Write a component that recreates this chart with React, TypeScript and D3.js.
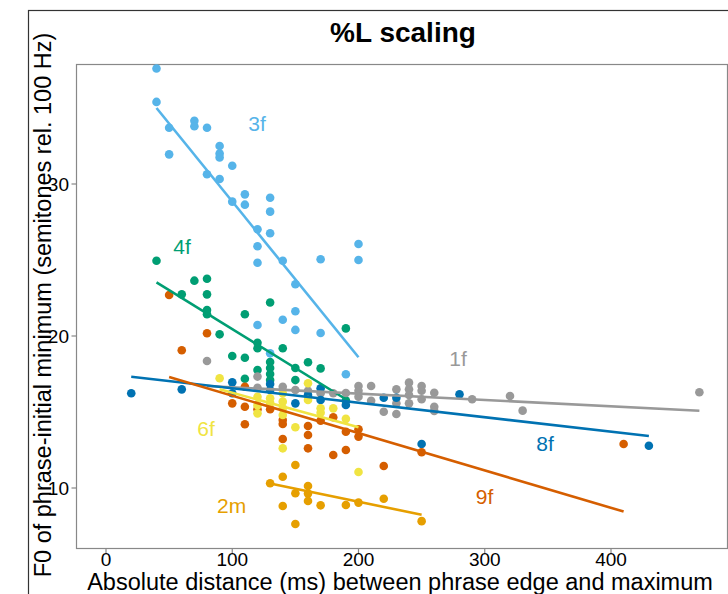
import React from "react";
import * as d3 from "d3";

// ---- data ----
const xTicks = [0, 100, 200, 300, 400];
const yTicks = [10, 20, 30];

const s1fX = [80, 120, 120, 140, 150, 160, 170, 180, 190, 200, 200, 200, 210, 210, 220, 230, 230, 230, 240, 240, 240, 240, 250, 250, 250, 260, 260, 260, 290, 320, 330, 470];
const s1fY = [18.36, 17.33, 16.6, 16.66, 16.45, 16.4, 16.23, 16.23, 16.25, 16.71, 16.4, 16.0, 16.71, 15.74, 15.02, 16.49, 15.57, 14.87, 16.93, 16.49, 16.12, 15.57, 16.71, 16.4, 15.84, 16.27, 15.35, 15.07, 15.84, 16.05, 15.09, 16.3];

const s3fX = [40, 40, 50, 50, 70, 70, 80, 90, 90, 90, 100, 80, 90, 110, 110, 100, 130, 130, 120, 130, 120, 120, 140, 170, 150, 150, 140, 150, 170, 120, 130, 190, 200, 200];
const s3fY = [37.6, 35.4, 33.7, 31.95, 34.16, 33.8, 33.7, 32.5, 32.0, 31.75, 31.2, 30.64, 30.33, 29.32, 28.64, 28.84, 29.1, 28.18, 27.02, 26.76, 25.9, 24.82, 24.95, 25.05, 23.4, 21.63, 21.07, 20.4, 20.2, 20.72, 18.86, 17.48, 26.05, 25.0];

const s4fX = [40, 60, 70, 80, 80, 80, 80, 90, 100, 110, 110, 110, 120, 120, 120, 130, 130, 130, 130, 130, 140, 150, 150, 160, 170, 190, 190];
const s4fY = [24.95, 22.74, 23.64, 23.77, 22.74, 21.71, 21.43, 20.11, 18.68, 21.43, 18.57, 17.19, 19.56, 19.19, 17.76, 22.2, 18.29, 17.89, 17.5, 17.1, 19.19, 17.89, 17.1, 18.27, 17.87, 20.5, 15.75];

const s8fX = [20, 60, 100, 100, 130, 130, 150, 160, 170, 170, 190, 220, 230, 250, 280, 430];
const s8fY = [16.23, 16.49, 16.95, 16.23, 16.84, 16.45, 15.57, 16.12, 16.56, 15.79, 15.46, 15.94, 15.94, 12.89, 16.16, 12.78];

const s9fX = [50, 60, 80, 100, 110, 110, 110, 120, 130, 140, 140, 140, 160, 160, 160, 170, 180, 180, 190, 190, 200, 200, 220, 250, 410];
const s9fY = [22.7, 19.06, 20.18, 15.57, 16.66, 15.35, 14.19, 15.18, 15.18, 14.47, 14.21, 13.22, 14.08, 13.49, 12.61, 14.43, 14.65, 12.17, 13.7, 12.5, 13.86, 13.38, 11.45, 12.35, 12.89];

const s6fX = [90, 120, 120, 120, 130, 130, 140, 140, 140, 140, 140, 150, 160, 160, 170, 170, 180, 190, 200];
const s6fY = [17.22, 16.0, 15.45, 14.91, 15.9, 15.6, 16.23, 15.68, 15.24, 14.8, 12.61, 14.0, 16.89, 15.79, 15.24, 14.95, 15.24, 14.55, 11.05];

const s2mX = [130, 140, 140, 150, 150, 150, 160, 160, 160, 170, 190, 200, 220, 250];
const s2mY = [10.31, 10.74, 8.82, 11.51, 9.65, 7.63, 10.13, 9.63, 9.15, 8.86, 8.88, 9.04, 9.29, 7.82];

// fitted lines: [x start, x end], [y start, y end]
const fit1fX = [80, 470]; const fit1fY = [16.71, 15.08];
const fit2mX = [130, 250]; const fit2mY = [10.3, 8.24];
const fit3fX = [40, 200]; const fit3fY = [35.0, 18.6];
const fit4fX = [40, 190]; const fit4fY = [23.53, 15.84];
const fit6fX = [90, 200]; const fit6fY = [16.49, 14.0];
const fit8fX = [20, 430]; const fit8fY = [17.32, 13.42];
const fit9fX = [50, 410]; const fit9fY = [17.3, 8.45];

// label anchor positions in data units
const labelNames = ["3f", "4f", "1f", "8f", "6f", "2m", "9f"];
const labelX = [119.6, 60.2, 278.8, 347.7, 79.2, 99.5, 299.8];
const labelY = [34.0, 25.92, 18.55, 12.96, 13.95, 8.88, 9.45];

const colors: Record<string, string> = {
  "1f": "#999999",
  "2m": "#E69F00",
  "3f": "#56B4E9",
  "4f": "#009E73",
  "6f": "#F0E442",
  "8f": "#0072B2",
  "9f": "#D55E00",
};

const series = [
  { name: "3f", xs: s3fX, ys: s3fY, fx: fit3fX, fy: fit3fY },
  { name: "4f", xs: s4fX, ys: s4fY, fx: fit4fX, fy: fit4fY },
  { name: "1f", xs: s1fX, ys: s1fY, fx: fit1fX, fy: fit1fY },
  { name: "8f", xs: s8fX, ys: s8fY, fx: fit8fX, fy: fit8fY },
  { name: "9f", xs: s9fX, ys: s9fY, fx: fit9fX, fy: fit9fY },
  { name: "6f", xs: s6fX, ys: s6fY, fx: fit6fX, fy: fit6fY },
  { name: "2m", xs: s2mX, ys: s2mY, fx: fit2mX, fy: fit2mY },
];

const W = 728;
const H = 594;
const panel = { left: 76.5, top: 64.5, right: 727.5, bottom: 548.5 };
const FONT = "'Liberation Sans', Arial, Helvetica, sans-serif";

export default function App() {
  const x = d3.scaleLinear().domain([0, 400]).range([106, 611]);
  const y = d3.scaleLinear().domain([10, 30]).range([488, 184]);
  const line = d3
    .line<[number, number]>()
    .x((d) => x(d[0]))
    .y((d) => y(d[1]));

  return (
    <svg
      width={W}
      height={H}
      style={{ position: "absolute", left: 0, top: 0, background: "#fff" }}
      fontFamily={FONT}
    >
      <rect x={0} y={0} width={W} height={H} fill="#fff" />
      {/* outer frame */}
      <rect x={28.5} y={10.5} width={W} height={H} fill="none" stroke="#333" strokeWidth={1.2} />
      {/* title */}
      <text x={403} y={42} textAnchor="middle" fontSize={28} fontWeight="bold" fill="#000">
        %L scaling
      </text>
      {/* panel */}
      <rect
        x={panel.left}
        y={panel.top}
        width={panel.right - panel.left}
        height={panel.bottom - panel.top}
        fill="#fff"
        stroke="#888"
        strokeWidth={1.2}
      />
      {/* x ticks */}
      {xTicks.map((t) => (
        <g key={"xt" + t}>
          <line x1={x(t)} x2={x(t)} y1={panel.bottom} y2={panel.bottom + 5} stroke="#888" strokeWidth={1.2} />
          <text x={x(t)} y={566} textAnchor="middle" fontSize={19} fill="#000">
            {t}
          </text>
        </g>
      ))}
      {/* y ticks */}
      {yTicks.map((t) => (
        <g key={"yt" + t}>
          <line x1={panel.left - 5} x2={panel.left} y1={y(t)} y2={y(t)} stroke="#888" strokeWidth={1.2} />
          <text x={69} y={y(t)} dy="0.36em" textAnchor="end" fontSize={19} fill="#000">
            {t}
          </text>
        </g>
      ))}
      {/* axis titles */}
      <text x={400} y={590} textAnchor="middle" fontSize={23.5} fill="#000">
        Absolute distance (ms) between phrase edge and maximum
      </text>
      <text
        transform={`translate(51,${305}) rotate(-90)`}
        textAnchor="middle"
        fontSize={23.5}
        fill="#000"
      >
        F0 of phrase-initial minimum (semitones rel. 100 Hz)
      </text>
      {/* points */}
      {series.map((s) => (
        <g key={"p" + s.name} fill={colors[s.name]}>
          {s.xs.map((xv, i) => (
            <circle key={i} cx={x(xv)} cy={y(s.ys[i])} r={4.3} />
          ))}
        </g>
      ))}
      {/* fit lines */}
      {series.map((s) => (
        <path
          key={"l" + s.name}
          d={line([
            [s.fx[0], s.fy[0]],
            [s.fx[1], s.fy[1]],
          ]) || ""}
          stroke={colors[s.name]}
          strokeWidth={2.6}
          fill="none"
        />
      ))}
      {/* labels */}
      {labelNames.map((n, i) => (
        <text
          key={"lab" + n}
          x={x(labelX[i])}
          y={y(labelY[i])}
          dy="0.36em"
          textAnchor="middle"
          fontSize={21}
          fill={colors[n]}
        >
          {n}
        </text>
      ))}
    </svg>
  );
}
